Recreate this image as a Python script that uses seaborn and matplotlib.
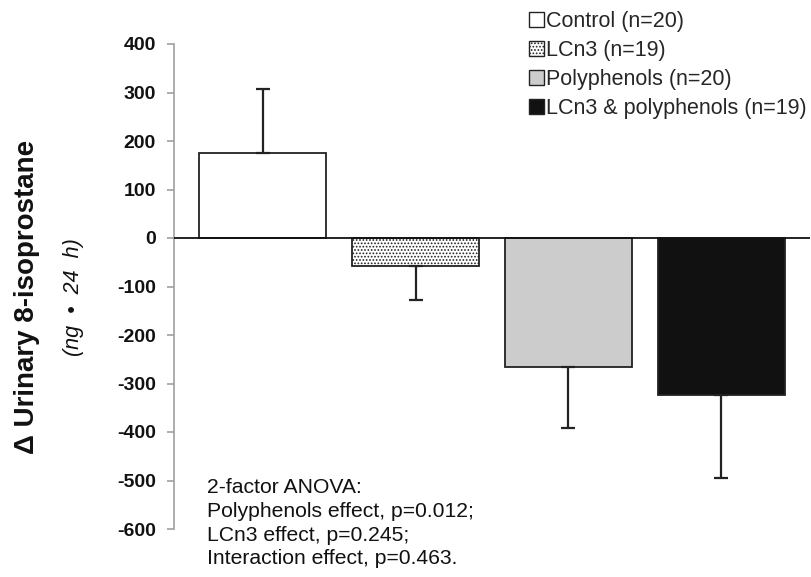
import matplotlib
matplotlib.use("Agg")
import matplotlib.pyplot as plt
import seaborn as sns
import pandas as pd
from matplotlib.patches import Patch

groups = ["Control (n=20)", "LCn3 (n=19)", "Polyphenols (n=20)", "LCn3 & polyphenols (n=19)"]
means = [175, -58, -265, -324]
errors = [133, 70, 127, 170]
y_ticks = [400, 300, 200, 100, 0, -100, -200, -300, -400, -500, -600]
anova_lines = ["2-factor ANOVA:", "Polyphenols effect, p=0.012;",
               "LCn3 effect, p=0.245;", "Interaction effect, p=0.463."]

face_colors = ["#ffffff", "#ffffff", "#cccccc", "#111111"]
hatches = [None, ".....", None, None]

sns.set_style("white")
plt.rcParams["font.family"] = ["Liberation Sans", "DejaVu Sans"]
plt.rcParams["hatch.color"] = "#555555"
plt.rcParams["hatch.linewidth"] = 0.8

df = pd.DataFrame({"group": groups, "value": means})

fig = plt.figure(figsize=(8.11, 5.77), dpi=100)
ax = fig.add_axes([174 / 811, 48 / 577, 636 / 811, 485 / 577])

sns.barplot(data=df, x="group", y="value", hue="group", palette=face_colors,
            order=groups, hue_order=groups, dodge=False, width=0.83,
            edgecolor="#222222", linewidth=1.3, legend=False, errorbar=None, ax=ax)

for patch, h in zip(ax.patches, hatches):
    if h:
        patch.set_hatch(h)

xs = [p.get_x() + p.get_width() / 2 for p in ax.patches]
for x, m, e in zip(xs, means, errors):
    if m >= 0:
        yerr = [[0], [e]]
    else:
        yerr = [[e], [0]]
    ax.errorbar([x], [m], yerr=yerr, fmt="none", ecolor="#222222",
                elinewidth=1.6, capsize=5, capthick=1.6, zorder=1)

ax.axhline(0, color="#111111", linewidth=1.3, zorder=3)

ax.set_ylim(-600, 400)
ax.set_xlim(-0.58, 3.58)
ax.set_yticks(y_ticks)
ax.set_yticklabels([str(t) for t in y_ticks], fontweight="bold", fontsize=14)
ax.set_xticks([])
ax.set_xlabel("")
ax.set_ylabel("")

for s in ["top", "right", "bottom"]:
    ax.spines[s].set_visible(False)
ax.spines["left"].set_color("#a0a0a0")
ax.spines["left"].set_linewidth(1.2)
ax.tick_params(axis="y", direction="out", length=5, width=1.2, color="#a0a0a0",
               pad=8, left=True, labelcolor="#111111")

fig.text(27 / 811, 1 - 297 / 577, "\u0394 Urinary 8-isoprostane", rotation=90,
         fontsize=20, fontweight="bold", ha="center", va="center", color="#111111")
fig.text(73 / 811, 1 - 297 / 577, "(ng  \u2022  24  h)", rotation=90,
         fontsize=15.5, fontstyle="italic", ha="center", va="center", color="#111111")

handles = [Patch(facecolor=c, edgecolor="#222222", hatch=h, linewidth=1.0)
           for c, h in zip(face_colors, hatches)]
fig.legend(handles, groups, loc="upper right", bbox_to_anchor=(1.0, 1 - 7 / 577),
           frameon=False, fontsize=15.5, handlelength=0.7, handleheight=0.7,
           handletextpad=0.1, labelspacing=0.37, borderaxespad=0.1, borderpad=0.1)

fig.text(207 / 811, 1 - 478 / 577, "\n".join(anova_lines), fontsize=15.2,
         ha="left", va="top", linespacing=1.32, color="#111111")

fig.savefig("out.png", dpi=100)
